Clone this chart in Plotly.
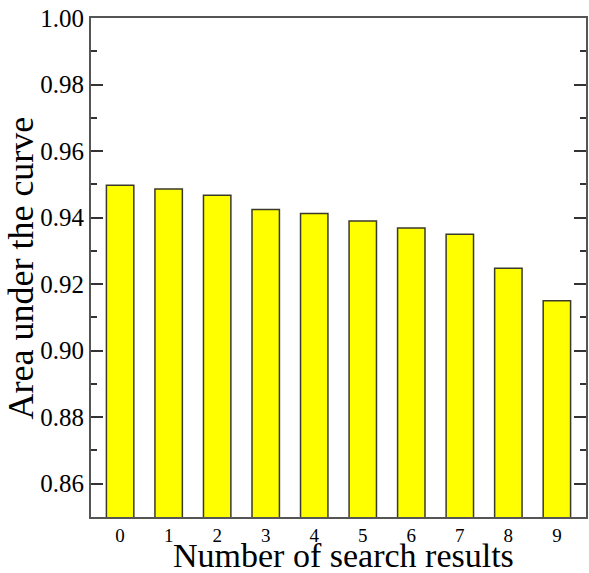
import plotly.graph_objects as go

categories = ["0", "1", "2", "3", "4", "5", "6", "7", "8", "9"]
auc_values = [0.9497, 0.9486, 0.9467, 0.9424, 0.9412, 0.9390, 0.9369, 0.9350, 0.9248, 0.9150]
y_tick_vals = [0.86, 0.88, 0.90, 0.92, 0.94, 0.96, 0.98, 1.00]
y_tick_text = ["0.86", "0.88", "0.90", "0.92", "0.94", "0.96", "0.98", "1.00"]
y_minor_vals = [0.87, 0.89, 0.91, 0.93, 0.95, 0.97, 0.99]
x_title = "Number of search results"
y_title = "Area under the curve"

font_family = "Liberation Serif"

fig = go.Figure()
fig.add_trace(go.Bar(
    x=list(range(len(categories))),
    y=auc_values,
    width=0.565,
    marker=dict(color="#FFFF00", line=dict(color="#3a3a2a", width=1.5)),
))

fig.update_layout(
    width=589, height=573,
    margin=dict(l=91, r=1, t=18, b=56),
    paper_bgcolor="white", plot_bgcolor="white",
    showlegend=False,
    font=dict(family=font_family, color="black"),
    xaxis=dict(
        range=[-0.6, 9.6],
        tickmode="array",
        tickvals=list(range(len(categories))),
        ticktext=categories,
        ticks="",
        showgrid=False, zeroline=False,
        showline=True, linecolor="#555555", linewidth=2, mirror=True,
        tickfont=dict(size=19, family=font_family),
    ),
    yaxis=dict(
        range=[0.85, 1.00],
        tickmode="array",
        tickvals=y_tick_vals,
        ticktext=y_tick_text,
        ticks="inside", ticklen=12, tickwidth=1.5, tickcolor="#333333",
        minor=dict(tickmode="array", tickvals=y_minor_vals,
                   ticks="inside", ticklen=6, tickwidth=1.5, tickcolor="#333333"),
        showgrid=False, zeroline=False,
        showline=True, linecolor="#555555", linewidth=2, mirror="ticks",
        tickfont=dict(size=25, family=font_family),
    ),
    annotations=[
        dict(text=x_title, xref="paper", yref="paper", x=0.5, y=0,
             xanchor="center", yanchor="bottom", xshift=5, yshift=-59,
             showarrow=False, font=dict(size=34, family=font_family, color="black")),
        dict(text=y_title, xref="paper", yref="paper", x=0, y=0.5,
             xanchor="center", yanchor="middle", xshift=-71, yshift=-1,
             textangle=-90, showarrow=False,
             font=dict(size=36, family=font_family, color="black")),
    ],
)

fig.write_html(
    "out.html",
    config={"displayModeBar": False},
    post_script="document.body.style.margin='0';document.body.style.overflow='hidden';",
)
